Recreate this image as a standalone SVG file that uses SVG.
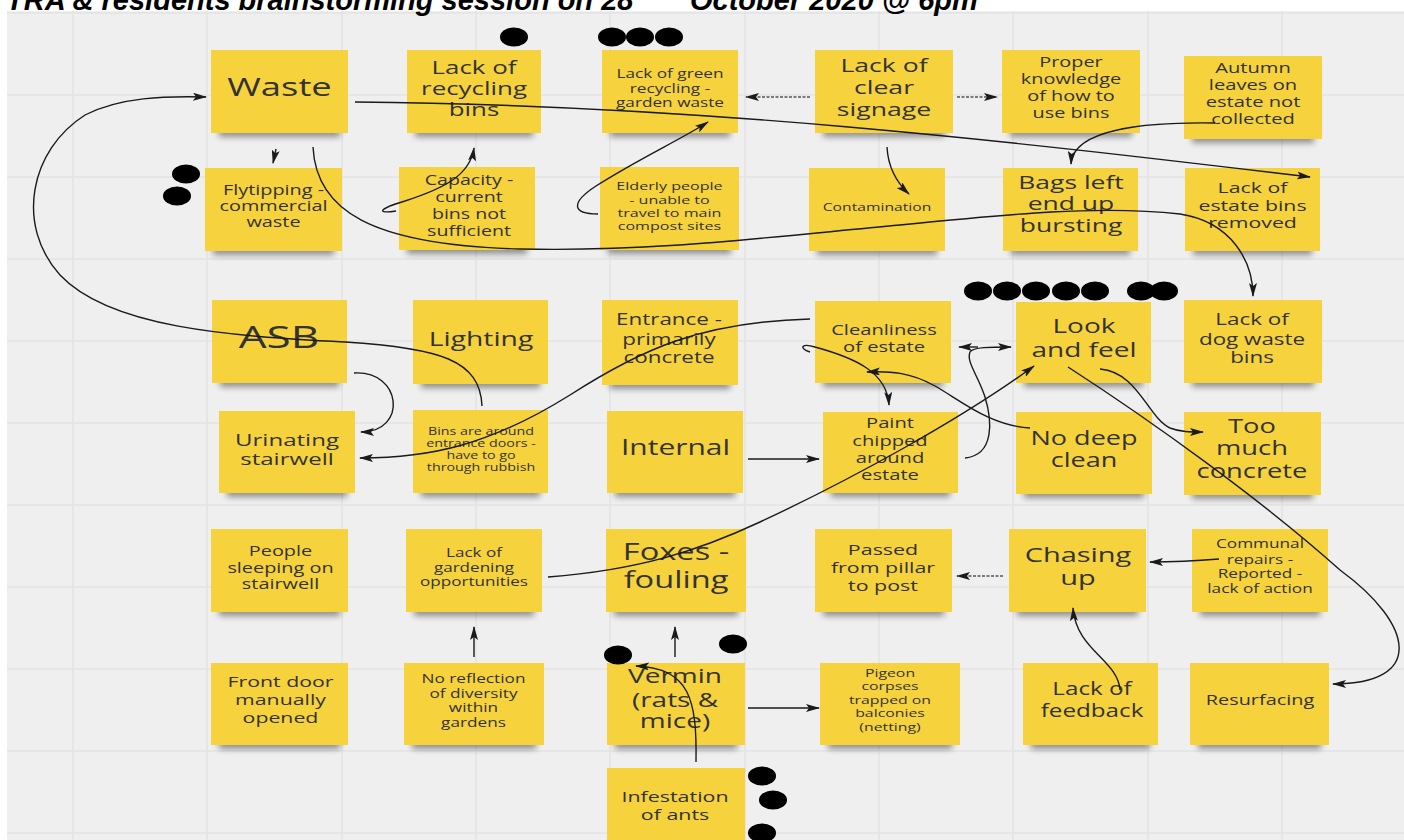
<svg xmlns="http://www.w3.org/2000/svg" width="1404" height="840" viewBox="0 0 1404 840">
<defs>
<style>
.note{fill:#f6d23d}
.shd{fill:#000;opacity:.4;filter:url(#blur)}
.t{font-family:"Open Sans","Liberation Sans",sans-serif;fill:#333;text-anchor:middle}
.c{fill:none;stroke:#1a1a1a;stroke-width:1.4;marker-end:url(#ah)}
.d{stroke:#555;stroke-dasharray:3 1.5}
.dot{fill:#000}
.grid line{stroke:#e3e3e3;stroke-width:1.5}
</style>
<filter id="blur" x="-20%" y="-100%" width="140%" height="300%"><feGaussianBlur stdDeviation="3"/></filter>
<marker id="ah" viewBox="0 0 14 8" refX="13" refY="4" markerWidth="14" markerHeight="8" markerUnits="userSpaceOnUse" orient="auto"><path d="M0,0 L14,4 L0,8 L3,4 Z" fill="#1a1a1a"/></marker>
</defs>
<rect width="1404" height="840" fill="#fff"/>
<rect x="7" y="11" width="1397" height="829" fill="#efefef"/>
<g class="grid">
<line x1="73" y1="11" x2="73" y2="840"/><line x1="207" y1="11" x2="207" y2="840"/><line x1="342" y1="11" x2="342" y2="840"/><line x1="476" y1="11" x2="476" y2="840"/><line x1="610" y1="11" x2="610" y2="840"/><line x1="745" y1="11" x2="745" y2="840"/><line x1="879" y1="11" x2="879" y2="840"/><line x1="1013" y1="11" x2="1013" y2="840"/><line x1="1148" y1="11" x2="1148" y2="840"/><line x1="1282" y1="11" x2="1282" y2="840"/>
<line x1="7" y1="13" x2="1404" y2="13"/><line x1="7" y1="95" x2="1404" y2="95"/><line x1="7" y1="177" x2="1404" y2="177"/><line x1="7" y1="259" x2="1404" y2="259"/><line x1="7" y1="341" x2="1404" y2="341"/><line x1="7" y1="423" x2="1404" y2="423"/><line x1="7" y1="505" x2="1404" y2="505"/><line x1="7" y1="587" x2="1404" y2="587"/><line x1="7" y1="669" x2="1404" y2="669"/><line x1="7" y1="751" x2="1404" y2="751"/><line x1="7" y1="833" x2="1404" y2="833"/>
</g>
<text id="title" x="6" y="10" font-family="Liberation Sans, Arial, sans-serif" font-weight="bold" font-style="italic" font-size="29" fill="#000">TRA &amp; residents brainstorming session on 28<tspan font-size="17" dy="-12">th</tspan><tspan x="690" y="10">October 2020 @ 6pm</tspan></text>

<g id="n-waste"><rect class="shd" x="219" y="127" width="121" height="10"/><rect class="note" x="211" y="50" width="137" height="83"/><text class="t" font-size="26" transform="translate(279.5 0) scale(1.4 1)"><tspan x="0" y="96">Waste</tspan></text></g>
<g id="n-lack-recycling"><rect class="shd" x="415" y="127" width="118" height="10"/><rect class="note" x="407" y="50" width="134" height="83"/><text class="t" font-size="18.5" transform="translate(474 0) scale(1.4 1)"><tspan x="0" y="74">Lack of</tspan><tspan x="0" y="95">recycling</tspan><tspan x="0" y="116">bins</tspan></text></g>
<g id="n-lack-green"><rect class="shd" x="610" y="127" width="120" height="10"/><rect class="note" x="602" y="50" width="136" height="83"/><text class="t" font-size="12.3" transform="translate(670 0) scale(1.4 1)"><tspan x="0" y="78">Lack of green</tspan><tspan x="0" y="93">recycling -</tspan><tspan x="0" y="107">garden waste</tspan></text></g>
<g id="n-signage"><rect class="shd" x="823" y="127" width="122" height="10"/><rect class="note" x="815" y="50" width="138" height="83"/><text class="t" font-size="19" transform="translate(884 0) scale(1.4 1)"><tspan x="0" y="72">Lack of</tspan><tspan x="0" y="94">clear</tspan><tspan x="0" y="116">signage</tspan></text></g>
<g id="n-proper"><rect class="shd" x="1010" y="127" width="122" height="10"/><rect class="note" x="1002" y="50" width="138" height="83"/><text class="t" font-size="14.2" transform="translate(1071 0) scale(1.4 1)"><tspan x="0" y="67">Proper</tspan><tspan x="0" y="84">knowledge</tspan><tspan x="0" y="101">of how to</tspan><tspan x="0" y="118">use bins</tspan></text></g>
<g id="n-autumn"><rect class="shd" x="1192" y="133" width="122" height="10"/><rect class="note" x="1184" y="56" width="138" height="83"/><text class="t" font-size="14.4" transform="translate(1253 0) scale(1.4 1)"><tspan x="0" y="73">Autumn</tspan><tspan x="0" y="90">leaves on</tspan><tspan x="0" y="107">estate not</tspan><tspan x="0" y="124">collected</tspan></text></g>

<g id="n-flytipping"><rect class="shd" x="213" y="245" width="121" height="10"/><rect class="note" x="205" y="168" width="137" height="83"/><text class="t" font-size="14.2" transform="translate(273.5 0) scale(1.4 1)"><tspan x="0" y="195">Flytipping -</tspan><tspan x="0" y="211">commercial</tspan><tspan x="0" y="227">waste</tspan></text></g>
<g id="n-capacity"><rect class="shd" x="407" y="244" width="120" height="10"/><rect class="note" x="399" y="167" width="136" height="83"/><text class="t" font-size="14" transform="translate(469 0) scale(1.4 1)"><tspan x="0" y="185">Capacity -</tspan><tspan x="0" y="202">current</tspan><tspan x="0" y="219">bins not</tspan><tspan x="0" y="236">sufficient</tspan></text></g>
<g id="n-elderly"><rect class="shd" x="608" y="244" width="123" height="10"/><rect class="note" x="600" y="167" width="139" height="83"/><text class="t" font-size="11.5" transform="translate(669.5 0) scale(1.4 1)"><tspan x="0" y="190">Elderly people</tspan><tspan x="0" y="204">- unable to</tspan><tspan x="0" y="217">travel to main</tspan><tspan x="0" y="230">compost sites</tspan></text></g>
<g id="n-contamination"><rect class="shd" x="817" y="245" width="120" height="10"/><rect class="note" x="809" y="168" width="136" height="83"/><text class="t" font-size="11.2" transform="translate(877 0) scale(1.4 1)"><tspan x="0" y="211">Contamination</tspan></text></g>
<g id="n-bags"><rect class="shd" x="1011" y="245" width="119" height="10"/><rect class="note" x="1003" y="168" width="135" height="83"/><text class="t" font-size="18.9" transform="translate(1071 0) scale(1.4 1)"><tspan x="0" y="189">Bags left</tspan><tspan x="0" y="210">end up</tspan><tspan x="0" y="232">bursting</tspan></text></g>
<g id="n-estate-bins"><rect class="shd" x="1193" y="245" width="119" height="10"/><rect class="note" x="1185" y="168" width="135" height="83"/><text class="t" font-size="15.2" transform="translate(1252.5 0) scale(1.4 1)"><tspan x="0" y="193">Lack of</tspan><tspan x="0" y="211">estate bins</tspan><tspan x="0" y="228">removed</tspan></text></g>

<g id="n-asb"><rect class="shd" x="220" y="377" width="119" height="10"/><rect class="note" x="212" y="300" width="135" height="83"/><text class="t" font-size="31.5" transform="translate(279 0) scale(1.4 1)"><tspan x="0" y="348">ASB</tspan></text></g>
<g id="n-lighting"><rect class="shd" x="421" y="378" width="119" height="10"/><rect class="note" x="413" y="300" width="135" height="84"/><text class="t" font-size="20.2" transform="translate(481 0) scale(1.4 1)"><tspan x="0" y="346">Lighting</tspan></text></g>
<g id="n-entrance"><rect class="shd" x="610" y="379" width="120" height="10"/><rect class="note" x="602" y="300" width="136" height="85"/><text class="t" font-size="16" transform="translate(669 0) scale(1.4 1)"><tspan x="0" y="325">Entrance -</tspan><tspan x="0" y="345">primarily</tspan><tspan x="0" y="363">concrete</tspan></text></g>
<g id="n-cleanliness"><rect class="shd" x="823" y="377" width="120" height="10"/><rect class="note" x="815" y="301" width="136" height="82"/><text class="t" font-size="14.4" transform="translate(884 0) scale(1.4 1)"><tspan x="0" y="335">Cleanliness</tspan><tspan x="0" y="352">of estate</tspan></text></g>
<g id="n-look"><rect class="shd" x="1024" y="377" width="119" height="10"/><rect class="note" x="1016" y="302" width="135" height="81"/><text class="t" font-size="20" transform="translate(1084 0) scale(1.4 1)"><tspan x="0" y="333">Look</tspan><tspan x="0" y="357">and feel</tspan></text></g>
<g id="n-dog"><rect class="shd" x="1192" y="377" width="122" height="10"/><rect class="note" x="1184" y="300" width="138" height="83"/><text class="t" font-size="16" transform="translate(1252 0) scale(1.4 1)"><tspan x="0" y="325">Lack of</tspan><tspan x="0" y="345">dog waste</tspan><tspan x="0" y="363">bins</tspan></text></g>

<g id="n-urinating"><rect class="shd" x="227" y="487" width="120" height="10"/><rect class="note" x="219" y="411" width="136" height="82"/><text class="t" font-size="17.2" transform="translate(287 0) scale(1.4 1)"><tspan x="0" y="446">Urinating</tspan><tspan x="0" y="465">stairwell</tspan></text></g>
<g id="n-bins-around"><rect class="shd" x="421" y="487" width="119" height="10"/><rect class="note" x="413" y="410" width="135" height="83"/><text class="t" font-size="10.2" transform="translate(481 0) scale(1.4 1)"><tspan x="0" y="435">Bins are around</tspan><tspan x="0" y="447">entrance doors -</tspan><tspan x="0" y="459">have to go</tspan><tspan x="0" y="471">through rubbish</tspan></text></g>
<g id="n-internal"><rect class="shd" x="615" y="487" width="120" height="10"/><rect class="note" x="607" y="411" width="136" height="82"/><text class="t" font-size="21.4" transform="translate(675.5 0) scale(1.4 1)"><tspan x="0" y="455">Internal</tspan></text></g>
<g id="n-paint"><rect class="shd" x="831" y="487" width="119" height="10"/><rect class="note" x="823" y="412" width="135" height="81"/><text class="t" font-size="14.4" transform="translate(890 0) scale(1.4 1)"><tspan x="0" y="428">Paint</tspan><tspan x="0" y="446">chipped</tspan><tspan x="0" y="463">around</tspan><tspan x="0" y="480">estate</tspan></text></g>
<g id="n-no-deep"><rect class="shd" x="1024" y="488" width="120" height="10"/><rect class="note" x="1016" y="412" width="136" height="82"/><text class="t" font-size="19.3" transform="translate(1084 0) scale(1.4 1)"><tspan x="0" y="445">No deep</tspan><tspan x="0" y="467">clean</tspan></text></g>
<g id="n-too-much"><rect class="shd" x="1192" y="489" width="121" height="10"/><rect class="note" x="1184" y="412" width="137" height="83"/><text class="t" font-size="19.5" transform="translate(1252 0) scale(1.4 1)"><tspan x="0" y="433">Too</tspan><tspan x="0" y="455">much</tspan><tspan x="0" y="478">concrete</tspan></text></g>

<g id="n-people"><rect class="shd" x="219" y="606" width="121" height="10"/><rect class="note" x="211" y="529" width="137" height="83"/><text class="t" font-size="14.2" transform="translate(280.5 0) scale(1.4 1)"><tspan x="0" y="556">People</tspan><tspan x="0" y="573">sleeping on</tspan><tspan x="0" y="589">stairwell</tspan></text></g>
<g id="n-gardening"><rect class="shd" x="414" y="606" width="120" height="10"/><rect class="note" x="406" y="529" width="136" height="83"/><text class="t" font-size="12.2" transform="translate(474 0) scale(1.4 1)"><tspan x="0" y="557">Lack of</tspan><tspan x="0" y="572">gardening</tspan><tspan x="0" y="586">opportunities</tspan></text></g>
<g id="n-foxes"><rect class="shd" x="614" y="606" width="124" height="10"/><rect class="note" x="606" y="529" width="140" height="83"/><text class="t" font-size="23.3" transform="translate(676 0) scale(1.4 1)"><tspan x="0" y="560">Foxes -</tspan><tspan x="0" y="588">fouling</tspan></text></g>
<g id="n-passed"><rect class="shd" x="823" y="606" width="121" height="10"/><rect class="note" x="815" y="529" width="137" height="83"/><text class="t" font-size="15.3" transform="translate(883 0) scale(1.4 1)"><tspan x="0" y="555">Passed</tspan><tspan x="0" y="573">from pillar</tspan><tspan x="0" y="591">to post</tspan></text></g>
<g id="n-chasing"><rect class="shd" x="1017" y="606" width="121" height="10"/><rect class="note" x="1009" y="529" width="137" height="83"/><text class="t" font-size="20.7" transform="translate(1078 0) scale(1.4 1)"><tspan x="0" y="562">Chasing</tspan><tspan x="0" y="585">up</tspan></text></g>
<g id="n-communal"><rect class="shd" x="1200" y="606" width="120" height="10"/><rect class="note" x="1192" y="529" width="136" height="83"/><text class="t" font-size="12.3" transform="translate(1260 0) scale(1.4 1)"><tspan x="0" y="548">Communal</tspan><tspan x="0" y="564">repairs -</tspan><tspan x="0" y="578">Reported -</tspan><tspan x="0" y="593">lack of action</tspan></text></g>

<g id="n-front-door"><rect class="shd" x="219" y="739" width="121" height="10"/><rect class="note" x="211" y="663" width="137" height="82"/><text class="t" font-size="15.2" transform="translate(280.5 0) scale(1.4 1)"><tspan x="0" y="687">Front door</tspan><tspan x="0" y="705">manually</tspan><tspan x="0" y="723">opened</tspan></text></g>
<g id="n-no-reflection"><rect class="shd" x="412" y="739" width="124" height="10"/><rect class="note" x="404" y="663" width="140" height="82"/><text class="t" font-size="12.3" transform="translate(473.5 0) scale(1.4 1)"><tspan x="0" y="683">No reflection</tspan><tspan x="0" y="698">of diversity</tspan><tspan x="0" y="712">within</tspan><tspan x="0" y="727">gardens</tspan></text></g>
<g id="n-vermin"><rect class="shd" x="615" y="739" width="122" height="10"/><rect class="note" x="607" y="663" width="138" height="82"/><text class="t" font-size="20" transform="translate(675 0) scale(1.4 1)"><tspan x="0" y="683">Vermin</tspan><tspan x="0" y="707">(rats &amp;</tspan><tspan x="0" y="728">mice)</tspan></text></g>
<g id="n-pigeon"><rect class="shd" x="828" y="739" width="124" height="10"/><rect class="note" x="820" y="663" width="140" height="82"/><text class="t" font-size="11.3" transform="translate(890 0) scale(1.4 1)"><tspan x="0" y="677">Pigeon</tspan><tspan x="0" y="690">corpses</tspan><tspan x="0" y="704">trapped on</tspan><tspan x="0" y="717">balconies</tspan><tspan x="0" y="731">(netting)</tspan></text></g>
<g id="n-feedback"><rect class="shd" x="1031" y="739" width="119" height="10"/><rect class="note" x="1023" y="663" width="135" height="82"/><text class="t" font-size="17.3" transform="translate(1092 0) scale(1.4 1)"><tspan x="0" y="695">Lack of</tspan><tspan x="0" y="717">feedback</tspan></text></g>
<g id="n-resurfacing"><rect class="shd" x="1198" y="739" width="123" height="10"/><rect class="note" x="1190" y="663" width="139" height="82"/><text class="t" font-size="14.2" transform="translate(1260 0) scale(1.4 1)"><tspan x="0" y="705">Resurfacing</tspan></text></g>

<g id="n-ants"><rect class="note" x="607" y="768" width="138" height="90"/><text class="t" font-size="15.3" transform="translate(675 0) scale(1.4 1)"><tspan x="0" y="802">Infestation</tspan><tspan x="0" y="820">of ants</tspan></text></g>

<g id="votes">
<ellipse class="dot" cx="514" cy="37" rx="14" ry="9.5"/>
<ellipse class="dot" cx="612" cy="37" rx="14" ry="9.5"/><ellipse class="dot" cx="640" cy="37" rx="14" ry="9.5"/><ellipse class="dot" cx="669" cy="37" rx="14" ry="9.5"/>
<ellipse class="dot" cx="186" cy="174" rx="14" ry="9.5"/><ellipse class="dot" cx="177" cy="196" rx="14" ry="9.5"/>
<ellipse class="dot" cx="978" cy="291" rx="14" ry="9.5"/><ellipse class="dot" cx="1007" cy="291" rx="14" ry="9.5"/><ellipse class="dot" cx="1036" cy="291" rx="14" ry="9.5"/><ellipse class="dot" cx="1066" cy="291" rx="14" ry="9.5"/><ellipse class="dot" cx="1095" cy="291" rx="14" ry="9.5"/>
<ellipse class="dot" cx="1141" cy="291" rx="14" ry="9.5"/><ellipse class="dot" cx="1164" cy="291" rx="14" ry="9.5"/>
<ellipse class="dot" cx="618" cy="655" rx="14" ry="9.5"/><ellipse class="dot" cx="733" cy="644" rx="14" ry="9.5"/>
<ellipse class="dot" cx="762" cy="776" rx="14" ry="9.5"/><ellipse class="dot" cx="773" cy="800" rx="14" ry="9.5"/><ellipse class="dot" cx="762" cy="833" rx="14" ry="9.5"/>
</g>

<g id="connectors">
<path class="c" d="M482,406 C480,360 440,348 345,342 C230,336 110,328 60,275 C15,225 30,150 85,115 C120,97 165,96 206,97"/>
<path class="c" d="M355,102 C700,105 1000,140 1310,177"/>
<path class="c" d="M313,147 C316,210 370,245 520,249 C650,252 760,238 900,225 C1010,214 1100,205 1180,214 C1232,222 1253,262 1253,296"/>
<path class="c" d="M276,149 L273,163"/>
<path class="c" d="M396,211 C376,214 378,209 405,201 C445,188 470,175 474,148"/>
<path class="c" d="M598,214 C572,214 570,203 596,186 C640,158 680,140 708,122"/>
<path class="c d" d="M810,97 L746,97"/>
<path class="c d" d="M957,97 L997,97"/>
<path class="c" d="M887,147 C888,166 895,181 909,194"/>
<path class="c" d="M1215,123 C1150,122 1073,128 1071,164"/>
<path class="c" d="M810,319 C700,322 640,350 570,395 C490,445 430,458 360,458"/>
<path class="c" d="M354,373 C402,370 408,432 361,432"/>
<path class="c" d="M810,352 C798,348 802,343 815,347 C855,358 887,372 889,405"/>
<path class="c" d="M1030,428 C990,426 960,400 935,386 C910,372 890,371 867,372"/>
<path class="c" d="M965,458 C995,455 992,420 985,397 C978,375 966,362 970,352 C973,347 990,347 1011,347"/>
<path class="c" d="M978,347 L959,347"/>
<path class="c" d="M548,577 C640,570 700,550 760,522 C850,480 960,420 1034,366"/>
<path class="c" d="M1100,369 C1138,372 1148,418 1170,428 C1180,432 1190,432 1203,432"/>
<path class="c" d="M1068,367 C1150,420 1262,500 1340,570 C1415,625 1425,684 1333,684"/>
<path class="c" d="M748,459 L819,459"/>
<path class="c d" d="M1003,576 L957,576"/>
<path class="c" d="M1219,559 C1195,561 1175,562 1150,562"/>
<path class="c" d="M1120,690 C1118,660 1076,650 1073,608"/>
<path class="c" d="M474,657 L474,627"/>
<path class="c" d="M675,657 L675,627"/>
<path class="c" d="M748,708 L819,708"/>
<path class="c" d="M696,762 C697,700 690,668 636,666"/>
</g>
</svg>
